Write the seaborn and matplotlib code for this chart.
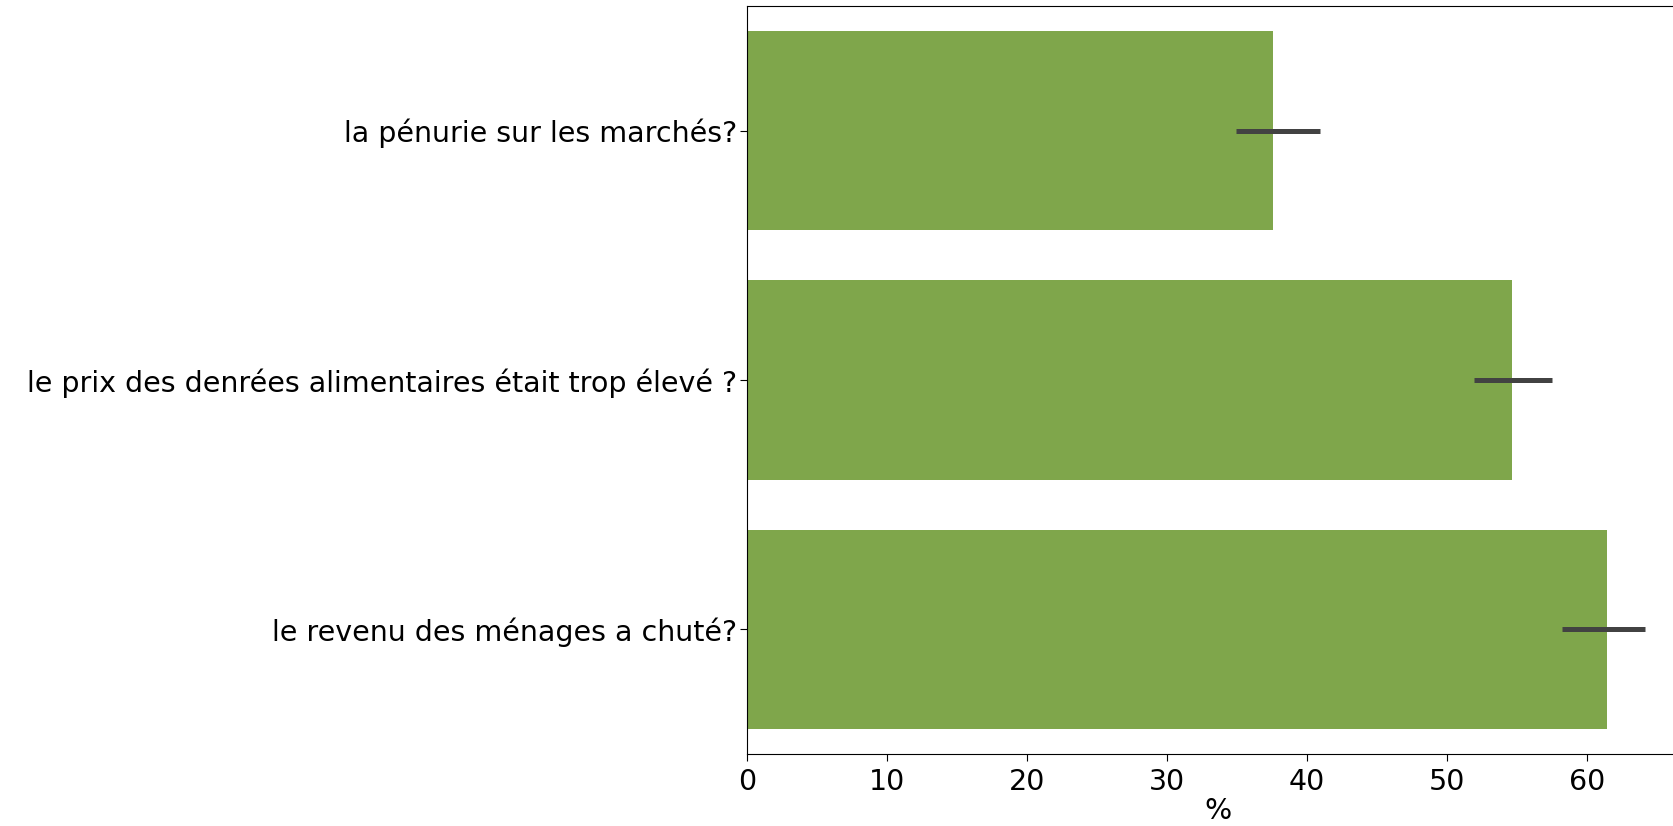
"""Horizontal bar chart of food-insecurity reasons with confidence intervals."""
import matplotlib
matplotlib.use("Agg")
import matplotlib.pyplot as plt
import pandas as pd
import seaborn as sns

# Data
categories = [
    "la pénurie sur les marchés?",
    "le prix des denrées alimentaires était trop élevé ?",
    "le revenu des ménages a chuté?",
]
percent = [37.6, 54.6, 61.4]
ci_low = [34.9, 51.9, 58.2]
ci_high = [40.9, 57.5, 64.1]

BAR_COLOR = "#7fa64b"
ERR_COLOR = "#424242"
FS = 20.5

df = pd.DataFrame({"reason": categories, "pct": percent,
                   "lo": ci_low, "hi": ci_high})

fig = plt.figure(figsize=(16.74, 8.26), dpi=100)
# axes run past the right edge of the figure, as in the cropped original
ax = fig.add_axes([0.4462, 0.0872, 0.563, 0.9056])

sns.barplot(data=df, x="pct", y="reason", color=BAR_COLOR, saturation=1,
            errorbar=None, ax=ax)
ax.hlines(y=range(len(df)), xmin=df["lo"], xmax=df["hi"],
          color=ERR_COLOR, linewidth=3.6)

ax.set_xlim(0, 67.3)
ax.set_ylim(len(df) - 0.5, -0.5)
ax.set_xlabel("%", fontsize=FS, labelpad=1)
ax.set_ylabel("")
ax.tick_params(axis="both", labelsize=FS, length=5)
ax.tick_params(axis="y", pad=2)
ax.tick_params(axis="x", pad=5)

fig.savefig("out.png", dpi=100)
